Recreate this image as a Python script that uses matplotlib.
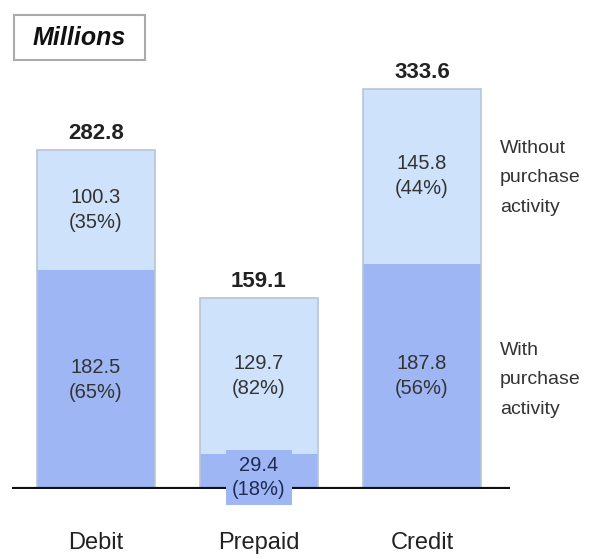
import matplotlib.pyplot as plt
from matplotlib.patches import Rectangle

plt.rcParams['font.family'] = ['Liberation Sans', 'DejaVu Sans']

categories = ['Debit', 'Prepaid', 'Credit']
with_purchase = [182.5, 29.4, 187.8]
without_purchase = [100.3, 129.7, 145.8]
totals = [282.8, 159.1, 333.6]
with_pct = ['65%', '18%', '56%']
without_pct = ['35%', '82%', '44%']

LIGHT = '#cfe2fb'
DARK = '#9fb6f4'
EDGE = '#b8c4d4'
TXT = '#333333'

fig = plt.figure(figsize=(6.07, 5.59), dpi=100)
ax = fig.add_axes([12 / 607, 70 / 559, 498 / 607, 431.6 / 559])
ax.set_xlim(-0.515, 2.54)
ax.set_ylim(0, 360)
ax.axis('off')

x = range(len(categories))
width = 0.72
ax.bar(x, with_purchase, width, color=DARK, edgecolor='none', zorder=2)
ax.bar(x, without_purchase, width, bottom=with_purchase, color=LIGHT,
       edgecolor='none', zorder=2)
# outline of whole bar
ax.bar(x, totals, width, facecolor='none', edgecolor=EDGE, linewidth=1.2, zorder=3)

for i in x:
    ax.text(i, totals[i] + 5, f'{totals[i]:.1f}', ha='center', va='bottom',
            fontsize=16, fontweight='bold', color='#222222')
    top_mid = with_purchase[i] + without_purchase[i] / 2
    ax.text(i, top_mid, f'{without_purchase[i]:.1f}\n({without_pct[i]})',
            ha='center', va='center', fontsize=14.5, color=TXT, linespacing=1.4, zorder=4)
    if with_purchase[i] > 60:
        ax.text(i, with_purchase[i] / 2, f'{with_purchase[i]:.1f}\n({with_pct[i]})',
                ha='center', va='center', fontsize=14.5, color=TXT, linespacing=1.4, zorder=4)
    else:
        # small segment: label box hangs below the baseline
        ax.text(i, with_purchase[i] / 2 - 5, f'{with_purchase[i]:.1f}\n({with_pct[i]})',
                ha='center', va='center', fontsize=14.5, color='#1f2a55', linespacing=1.3,
                zorder=6, clip_on=False,
                bbox=dict(boxstyle='square,pad=0.3', facecolor=DARK, edgecolor='none'))
    ax.text(i, -45, categories[i], ha='center', va='center', fontsize=17, color='#222222')

ax.axhline(0, color='#111111', linewidth=3, zorder=5)

fig.text(500 / 607, 1 - 178 / 559, 'Without\npurchase\nactivity', ha='left', va='center',
         fontsize=14, color=TXT, linespacing=1.95)
fig.text(500 / 607, 1 - 380 / 559, 'With\npurchase\nactivity', ha='left', va='center',
         fontsize=14, color=TXT, linespacing=1.95)

fig.patches.append(Rectangle((14 / 607, 1 - 60 / 559), 131 / 607, 45 / 559,
                             transform=fig.transFigure, facecolor='white',
                             edgecolor='#aaaaaa', linewidth=1.5))
fig.text(79 / 607, 1 - 38 / 559, 'Millions', ha='center', va='center', fontsize=18,
         fontweight='bold', fontstyle='italic', color='#111111')

fig.savefig('out.png', dpi=100)
